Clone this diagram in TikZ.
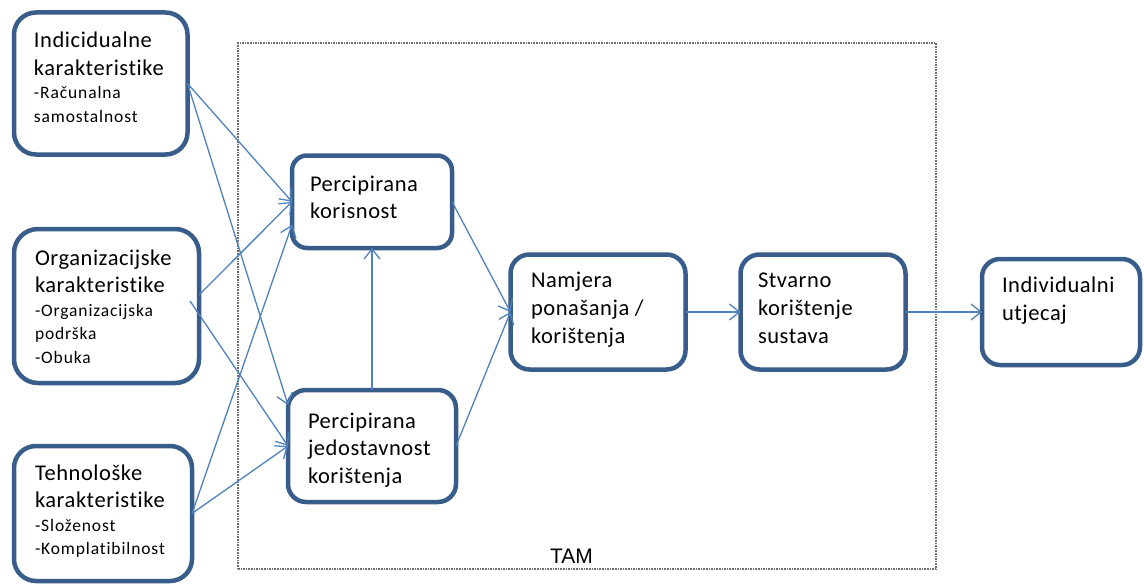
\documentclass[tikz,border=0pt]{standalone}
\usepackage{fontspec}
\setmainfont{Carlito}[Ligatures=NoCommon]
\newfontfamily\tamfont{Liberation Sans}
\usetikzlibrary{arrows.meta}
\definecolor{boxblue}{HTML}{385D8A}
\definecolor{arrblue}{HTML}{4F81BD}
\definecolor{tamgray}{HTML}{6E6E6E}
\newcommand\bigtxt{\fontsize{22.5}{27.5}\selectfont\addfontfeature{LetterSpace=2.5}}
\newcommand\smltxt{\fontsize{17.5}{23.5}\selectfont\addfontfeature{LetterSpace=5}}
\begin{document}
\begin{tikzpicture}[x=1pt,y=-1pt,
  box/.style={draw=boxblue, line width=4.5pt, fill=white, rectangle, inner sep=0pt, outer sep=0pt, anchor=north west},
  lbl/.style={anchor=base west, inner sep=0pt, outer sep=0pt, text=black},
  arr/.style={draw=arrblue, line width=1.3pt, -{Straight Barb[length=10pt,width=16pt]}},
  tambox/.style={draw=tamgray, line width=1.6pt, densely dotted, rectangle, inner sep=0pt, outer sep=0pt, anchor=north west}]
\useasboundingbox (0,0) rectangle (1144,586);
% TAM frame
\node[tambox, minimum width=698pt, minimum height=526pt] (tam) at (238,43) {};
\node[lbl, font=\tamfont\fontsize{21}{24}\selectfont] (tamlbl) at (550,563) {TAM};
% boxes
\node[box, rounded corners=22pt, minimum width=173.5pt, minimum height=142pt] (a) at (14,12.5) {};
\node[box, rounded corners=24pt, minimum width=185pt, minimum height=154pt] (b) at (14,229) {};
\node[box, rounded corners=22pt, minimum width=178pt, minimum height=135pt] (c) at (14,446) {};
\node[box, rounded corners=15pt, minimum width=160pt, minimum height=92.5pt] (pk) at (292,155.5) {};
\node[box, rounded corners=18pt, minimum width=168pt, minimum height=112pt] (pj) at (288,390) {};
\node[box, rounded corners=19pt, minimum width=175pt, minimum height=115pt] (nam) at (510.5,254.5) {};
\node[box, rounded corners=19pt, minimum width=165pt, minimum height=115pt] (stv) at (740.5,254.5) {};
\node[box, rounded corners=18pt, minimum width=158pt, minimum height=106pt] (ind) at (982,259) {};
% texts
\node[lbl] (ta) at (34,48) {\vtop{\bigtxt\hbox{Indicidualne}\hbox{karakteristike}\smltxt\hbox{-Računalna}\hbox{samostalnost}}};
\node[lbl] (tb) at (35,265) {\vtop{\bigtxt\hbox{Organizacijske}\hbox{karakteristike}\smltxt\hbox{-Organizacijska}\hbox{podrška}\hbox{-Obuka}}};
\node[lbl] (tc) at (35,480) {\vtop{\bigtxt\hbox{Tehnološke}\hbox{karakteristike}\smltxt\hbox{-Složenost}\hbox{-Komplatibilnost}}};
\node[lbl] (tpk) at (310,191) {\vtop{\bigtxt\hbox{Percipirana}\hbox{korisnost}}};
\node[lbl] (tpj) at (308,428) {\vtop{\bigtxt\hbox{Percipirana}\hbox{jedostavnost}\hbox{korištenja}}};
\node[lbl] (tnam) at (531,287) {\vtop{\bigtxt\baselineskip=28pt\hbox{Namjera}\hbox{ponašanja /}\hbox{korištenja}}};
\node[lbl] (tstv) at (758,287) {\vtop{\bigtxt\baselineskip=28pt\hbox{Stvarno}\hbox{korištenje}\hbox{sustava}}};
\node[lbl] (tind) at (1002,292) {\vtop{\bigtxt\baselineskip=28pt\hbox{Individualni}\hbox{utjecaj}}};
% connectors
\draw[arr] (a.east) -- (pk.west);
\draw[arr] (a.east) -- ([yshift=41pt]pj.west);
\draw[arr] ([yshift=11pt]b.east) -- (pk.west);
\draw[arr] ([xshift=-9pt,yshift=5pt]b.east) -- (pj.west);
\draw[arr] (c.east) -- ([yshift=-23pt]pk.west);
\draw[arr] (c.east) -- (pj.west);
\draw[arr] (pj.north) -- (pk.south);
\draw[arr] (pk.east) -- (nam.west);
\draw[arr] (pj.east) -- (nam.west);
\draw[arr] (nam.east) -- (stv.west);
\draw[arr] (stv.east) -- (ind.west);
\end{tikzpicture}
\end{document}
